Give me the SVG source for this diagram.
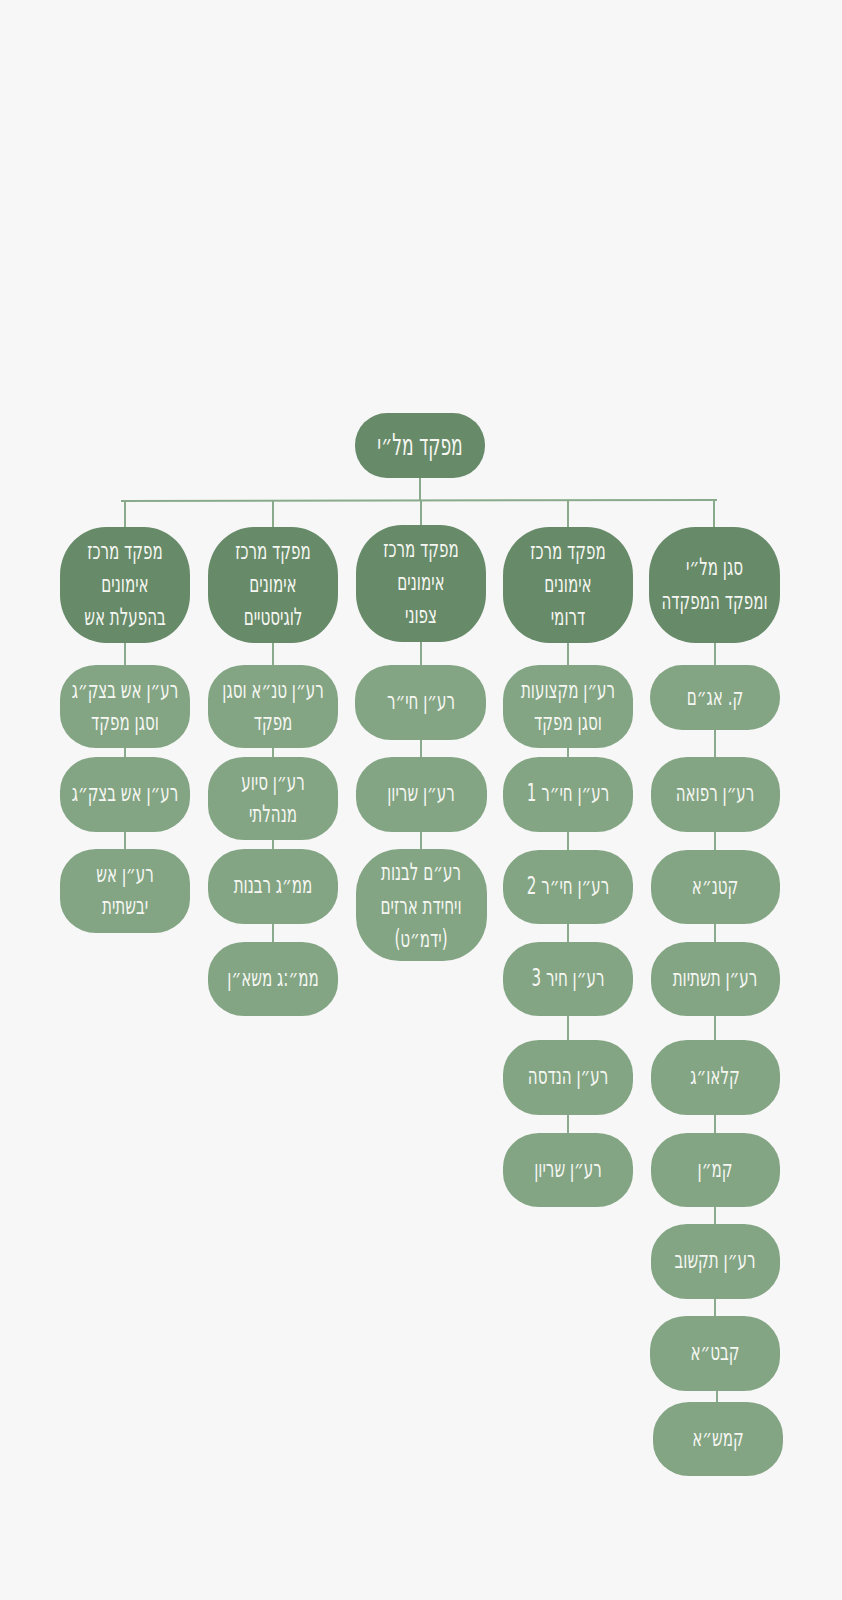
<svg xmlns="http://www.w3.org/2000/svg" width="842" height="1600" viewBox="0 0 842 1600">
<style>
.bg{fill:#f7f7f7}
.head{fill:#678a69}
.sub{fill:#83a584}
.conn{stroke:#8aab8b;stroke-width:2;fill:none}
.t{font-family:"DejaVu Sans","Noto Sans",sans-serif;font-size:24px;fill:#f6f7f2;text-anchor:middle;direction:rtl}
.tt{font-size:30px}
</style>
<rect class="bg" x="0" y="0" width="842" height="1600"/>
<g id="connectors">
<line class="conn" x1="420" y1="478" x2="420" y2="501"/>
<line class="conn" x1="121" y1="501" x2="717" y2="500"/>
<line class="conn" x1="125" y1="501" x2="125" y2="527"/>
<line class="conn" x1="273" y1="501" x2="273" y2="527"/>
<line class="conn" x1="421" y1="500" x2="421" y2="525"/>
<line class="conn" x1="568" y1="500" x2="568" y2="527"/>
<line class="conn" x1="714" y1="500" x2="714" y2="527"/>
<line class="conn" x1="125" y1="643" x2="125" y2="849"/>
<line class="conn" x1="273" y1="643" x2="273" y2="942"/>
<line class="conn" x1="421" y1="642" x2="421" y2="849"/>
<line class="conn" x1="568" y1="643" x2="568" y2="1133"/>
<line class="conn" x1="715" y1="643" x2="715" y2="1316"/>
<line class="conn" x1="717" y1="1391" x2="717" y2="1402"/>
</g>
<g id="n0"><rect class="head" x="355" y="413" width="130" height="65" rx="32" ry="32"/><text class="t tt" transform="translate(420 0) scale(.57 1)" y="455">מפקד מל״י</text></g>
<g id="h1"><rect class="head" x="60" y="527" width="130" height="116" rx="46" ry="48"/><text class="t" transform="translate(125 0) scale(.63 1)" y="559">מפקד מרכז</text><text class="t" transform="translate(125 0) scale(.63 1)" y="592">אימונים</text><text class="t" transform="translate(125 0) scale(.63 1)" y="625">בהפעלת אש</text></g>
<g id="h2"><rect class="head" x="208" y="527" width="130" height="116" rx="46" ry="48"/><text class="t" transform="translate(273 0) scale(.63 1)" y="559">מפקד מרכז</text><text class="t" transform="translate(273 0) scale(.63 1)" y="592">אימונים</text><text class="t" transform="translate(273 0) scale(.63 1)" y="625">לוגיסטיים</text></g>
<g id="h3"><rect class="head" x="356" y="525" width="130" height="117" rx="46" ry="48"/><text class="t" transform="translate(421 0) scale(.63 1)" y="557">מפקד מרכז</text><text class="t" transform="translate(421 0) scale(.63 1)" y="590">אימונים</text><text class="t" transform="translate(421 0) scale(.63 1)" y="623">צפוני</text></g>
<g id="h4"><rect class="head" x="503" y="527" width="130" height="116" rx="46" ry="48"/><text class="t" transform="translate(568 0) scale(.63 1)" y="559">מפקד מרכז</text><text class="t" transform="translate(568 0) scale(.63 1)" y="592">אימונים</text><text class="t" transform="translate(568 0) scale(.63 1)" y="625">דרומי</text></g>
<g id="h5"><rect class="head" x="649" y="527" width="131" height="116" rx="46" ry="48"/><text class="t" transform="translate(714.5 0) scale(.63 1)" y="575">סגן מל״י</text><text class="t" transform="translate(714.5 0) scale(.63 1)" y="609">ומפקד המפקדה</text></g>

<g id="c1a"><rect class="sub" x="60" y="665" width="130" height="83" rx="36" ry="34"/><text class="t" transform="translate(125 0) scale(.63 1)" y="698">רע״ן אש בצק״ג</text><text class="t" transform="translate(125 0) scale(.63 1)" y="730">וסגן מפקד</text></g>
<g id="c1b"><rect class="sub" x="60" y="757" width="130" height="75" rx="36" ry="34"/><text class="t" transform="translate(125 0) scale(.63 1)" y="801">רע״ן אש בצק״ג</text></g>
<g id="c1c"><rect class="sub" x="60" y="849" width="130" height="84" rx="36" ry="34"/><text class="t" transform="translate(125 0) scale(.63 1)" y="882">רע״ן אש</text><text class="t" transform="translate(125 0) scale(.63 1)" y="914">יבשתית</text></g>

<g id="c2a"><rect class="sub" x="208" y="665" width="130" height="83" rx="36" ry="34"/><text class="t" transform="translate(273 0) scale(.63 1)" y="698">רע״ן טנ״א וסגן</text><text class="t" transform="translate(273 0) scale(.63 1)" y="730">מפקד</text></g>
<g id="c2b"><rect class="sub" x="208" y="757" width="130" height="83" rx="36" ry="34"/><text class="t" transform="translate(273 0) scale(.63 1)" y="790">רע״ן סיוע</text><text class="t" transform="translate(273 0) scale(.63 1)" y="822">מנהלתי</text></g>
<g id="c2c"><rect class="sub" x="208" y="849" width="130" height="75" rx="36" ry="34"/><text class="t" transform="translate(273 0) scale(.63 1)" y="893">ממ״ג רבנות</text></g>
<g id="c2d"><rect class="sub" x="208" y="942" width="130" height="74" rx="36" ry="34"/><text class="t" transform="translate(273 0) scale(.63 1)" y="986">ממ״:ג משא״ן</text></g>

<g id="c3a"><rect class="sub" x="355" y="665" width="131" height="75" rx="36" ry="34"/><text class="t" transform="translate(421 0) scale(.63 1)" y="709">רע״ן חי״ר</text></g>
<g id="c3b"><rect class="sub" x="356" y="757" width="131" height="75" rx="36" ry="34"/><text class="t" transform="translate(421 0) scale(.63 1)" y="801">רע״ן שריון</text></g>
<g id="c3c"><rect class="sub" x="356" y="849" width="131" height="112" rx="44" ry="44"/><text class="t" transform="translate(421 0) scale(.63 1)" y="880">רע״ם לבנות</text><text class="t" transform="translate(421 0) scale(.63 1)" y="914">ויחידת ארזים</text><text class="t" transform="translate(421 0) scale(.63 1)" y="947">(ידמ״ט)</text></g>

<g id="c4a"><rect class="sub" x="503" y="665" width="130" height="83" rx="36" ry="34"/><text class="t" transform="translate(568 0) scale(.63 1)" y="698">רע״ן מקצועות</text><text class="t" transform="translate(568 0) scale(.63 1)" y="730">וסגן מפקד</text></g>
<g id="c4b"><rect class="sub" x="503" y="757" width="130" height="75" rx="36" ry="34"/><text class="t" transform="translate(568 0) scale(.63 1)" y="801">רע״ן חי״ר 1</text></g>
<g id="c4c"><rect class="sub" x="503" y="850" width="130" height="74" rx="36" ry="34"/><text class="t" transform="translate(568 0) scale(.63 1)" y="894">רע״ן חי״ר 2</text></g>
<g id="c4d"><rect class="sub" x="503" y="942" width="130" height="74" rx="36" ry="34"/><text class="t" transform="translate(568 0) scale(.63 1)" y="986">רע״ן חיר 3</text></g>
<g id="c4e"><rect class="sub" x="503" y="1040" width="130" height="75" rx="36" ry="34"/><text class="t" transform="translate(568 0) scale(.63 1)" y="1084">רע״ן הנדסה</text></g>
<g id="c4f"><rect class="sub" x="503" y="1133" width="130" height="74" rx="36" ry="34"/><text class="t" transform="translate(568 0) scale(.63 1)" y="1177">רע״ן שריון</text></g>

<g id="c5a"><rect class="sub" x="650" y="665" width="130" height="65" rx="32" ry="32"/><text class="t" transform="translate(715 0) scale(.63 1)" y="705">ק. אג״ם</text></g>
<g id="c5b"><rect class="sub" x="651" y="757" width="129" height="75" rx="36" ry="34"/><text class="t" transform="translate(715 0) scale(.63 1)" y="801">רע״ן רפואה</text></g>
<g id="c5c"><rect class="sub" x="651" y="850" width="129" height="74" rx="36" ry="34"/><text class="t" transform="translate(715 0) scale(.63 1)" y="894">קטנ״א</text></g>
<g id="c5d"><rect class="sub" x="651" y="942" width="129" height="74" rx="36" ry="34"/><text class="t" transform="translate(715 0) scale(.63 1)" y="986">רע״ן תשתיות</text></g>
<g id="c5e"><rect class="sub" x="651" y="1040" width="129" height="75" rx="36" ry="34"/><text class="t" transform="translate(715 0) scale(.63 1)" y="1084">קלאו״ג</text></g>
<g id="c5f"><rect class="sub" x="651" y="1133" width="129" height="74" rx="36" ry="34"/><text class="t" transform="translate(715 0) scale(.63 1)" y="1177">קמ״ן</text></g>
<g id="c5g"><rect class="sub" x="651" y="1224" width="129" height="75" rx="36" ry="34"/><text class="t" transform="translate(715 0) scale(.63 1)" y="1268">רע״ן תקשוב</text></g>
<g id="c5h"><rect class="sub" x="650" y="1316" width="130" height="75" rx="36" ry="34"/><text class="t" transform="translate(715 0) scale(.63 1)" y="1360">קבט״א</text></g>
<g id="c5i"><rect class="sub" x="653" y="1402" width="130" height="74" rx="36" ry="34"/><text class="t" transform="translate(718 0) scale(.63 1)" y="1446">קמש״א</text></g>
</svg>
